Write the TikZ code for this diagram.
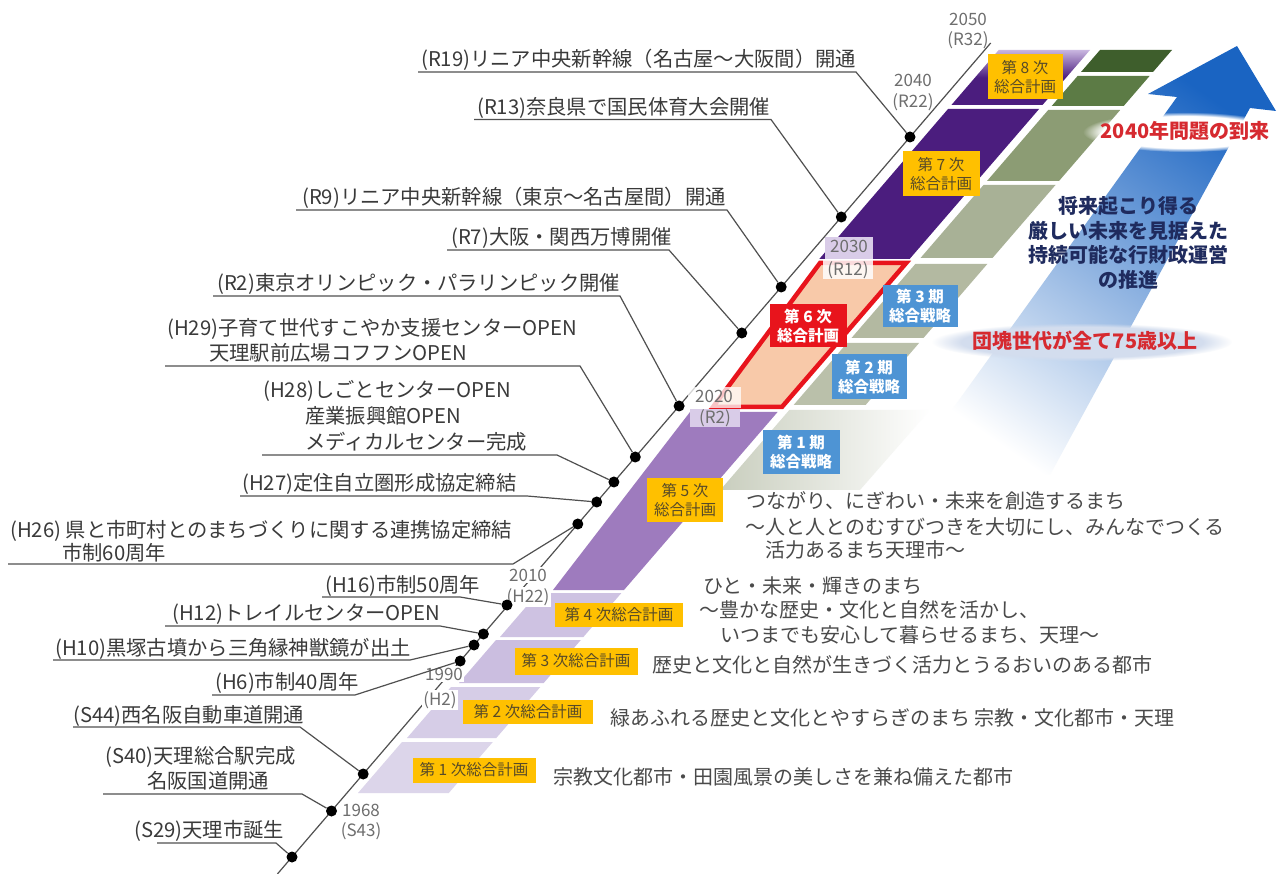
\documentclass[tikz,border=0pt]{standalone}
\usepackage{fontspec}
\setmainfont{Noto Sans CJK JP}
\usetikzlibrary{fadings}
\definecolor{lbltext}{HTML}{3A3A3A}
\definecolor{slogtext}{HTML}{4A4A4A}
\definecolor{yeartext}{HTML}{6E6E6E}
\definecolor{ulcol}{HTML}{505050}
\definecolor{bandA}{HTML}{DCD5EA}
\definecolor{bandB}{HTML}{D6CDE7}
\definecolor{bandC}{HTML}{CBBEE0}
\definecolor{bandD}{HTML}{CEC2E2}
\definecolor{bandE}{HTML}{9E7BBE}
\definecolor{peach}{HTML}{F8C9A9}
\definecolor{redsix}{HTML}{E8141C}
\definecolor{bandG}{HTML}{4B1D7E}
\definecolor{bandHtop}{HTML}{C9B6E0}
\definecolor{planorange}{HTML}{FFC000}
\definecolor{plantext}{HTML}{574A28}
\definecolor{stratblue}{HTML}{4E94D4}
\definecolor{gOne}{HTML}{C9CEBE}
\definecolor{gTwo}{HTML}{BAC0AA}
\definecolor{gThree}{HTML}{B3B9A1}
\definecolor{gSix}{HTML}{A8B196}
\definecolor{gSeven}{HTML}{8C9C74}
\definecolor{gEightB}{HTML}{5C7B45}
\definecolor{gEightA}{HTML}{3E5E2C}
\definecolor{arrowdark}{HTML}{1A64C2}
\definecolor{arrowmid}{HTML}{86B4E4}
\definecolor{navytext}{HTML}{1F2B5E}
\definecolor{redtext}{HTML}{D62A30}
\definecolor{cloudblue}{HTML}{D3DDEE}
\definecolor{lavbox}{HTML}{D9CCE8}
\begin{document}
\begin{tikzpicture}[x=1pt,y=-1pt,
  lbl/.style={anchor=base west, inner sep=0pt, text=lbltext, font=\fontsize{20.3}{22}\selectfont},
  slog/.style={anchor=base west, inner sep=0pt, text=slogtext, font=\fontsize{20}{24}\selectfont},
  yr/.style={anchor=base, inner sep=0pt, text=yeartext, font=\fontsize{17}{19}\selectfont},
  yrw/.style={yr, fill=white, inner sep=1.5pt},
  ul/.style={draw=ulcol, line width=1.2pt},
  tdot/.style={circle, fill=black, inner sep=0pt, minimum size=11pt},
  obox/.style={fill=planorange, text=plantext, inner sep=0pt, align=center, font=\fontsize{15.5}{19}\selectfont},
  rbox/.style={fill=redsix, text=white, inner sep=0pt, align=center, font=\bfseries\fontsize{15.5}{19}\selectfont},
  bbox/.style={fill=stratblue, text=white, inner sep=0pt, align=center, font=\bfseries\fontsize{15.5}{19}\selectfont},
  bigtext/.style={inner sep=0pt, align=center, font=\bfseries\fontsize{20}{24.5}\selectfont}
]
\useasboundingbox (0,0) rectangle (1278,874);
\fill[white] (0,0) rectangle (1278,874);

% ---------- plan bands ----------
\fill[bandA] (402,742) -- (492.8,742) -- (448.8,793) -- (358,793) -- cycle;
\fill[bandB] (451,687) -- (540.3,687) -- (496.3,738) -- (407,738) -- cycle;
\fill[bandC] (496,640) -- (580.8,640) -- (543.7,683) -- (459,683) -- cycle;
\fill[bandD] (538,593) -- (621.4,593) -- (583.4,637) -- (500,637) -- cycle;
\fill[bandE] (690,412) -- (777.6,412) -- (624,590) -- (553,590) -- cycle;
\fill[bandG] (948,109) -- (1039.1,109) -- (909.6,259) -- (819.3,259) -- cycle;
\shade[top color=bandHtop, bottom color=bandG, middle color=bandG] (998.7,50) -- (1090,50) -- (1042.5,105) -- (951.4,105) -- cycle;

% ---------- strategy bands ----------
\shade[left color=gOne, right color=white] (789.3,410) -- (930,410) -- (860,490) -- (720.3,490) -- cycle;
\fill[gTwo] (847.1,343) -- (919.1,343) -- (865.6,405) -- (793.6,405) -- cycle;
\fill[gThree] (915.3,264) -- (987.3,264) -- (923.5,338) -- (851.5,338) -- cycle;
\fill[gSix] (983.5,185) -- (1055.5,185) -- (992.5,258) -- (920.5,258) -- cycle;
\fill[gSeven] (1048.2,110) -- (1120.2,110) -- (1059,181) -- (987,181) -- cycle;
\fill[gEightB] (1077.6,76) -- (1149.6,76) -- (1123.7,106) -- (1051.7,106) -- cycle;
\fill[gEightA] (1100,50) -- (1172,50) -- (1153,72) -- (1081,72) -- cycle;

% ---------- big arrow ----------
\shade[top color=arrowdark, middle color=arrowmid, bottom color=white, shading angle=-35]
  (1148,94) -- (1237,46) -- (1276,111) -- (1250,108) -- (1050,475) -- (905,475) -- (1177,97) -- cycle;
\fill[white, path fading=circle with fuzzy edge 20 percent] (1185,132) ellipse [x radius=102, y radius=20];
\fill[cloudblue, path fading=circle with fuzzy edge 20 percent] (1082,342) ellipse [x radius=150, y radius=19];

% ---------- 6th plan (red frame) ----------
\filldraw[fill=peach, draw=redsix, line width=4.5pt, line join=miter] (820,263) -- (906.2,263) -- (781.9,407) -- (713,407) -- cycle;

% ---------- timeline ----------
\coordinate (tlA) at (277.4,874);
\coordinate (tlB) at (990.7,43);
\draw[ul] (tlA) -- (tlB);

% year label backgrounds
\fill[white, opacity=0.75] (688,387) rectangle (741,408);
\fill[lavbox] (690,409) rectangle (740,427);
\fill[lavbox] (825,237) rectangle (873,259);
\fill[white, opacity=0.85] (823,260) rectangle (873,279);

% ---------- year labels ----------
\node[yr] (y1968) at (361,816) {1968};
\node[yr] (s43) at (361,836) {(S43)};
\node[yrw] (y1990) at (444,680) {1990};
\node[yrw] (h2) at (440,705) {(H2)};
\node[yrw] (y2010) at (528,581) {2010};
\node[yrw] (h22) at (528,602) {(H22)};
\node[yr] (y2020) at (714,403) {2020};
\node[yr] (r2y) at (715,424) {(R2)};
\node[yr] (y2030) at (849,253) {2030};
\node[yr] (r12) at (848,276) {(R12)};
\node[yr] (y2040) at (913,87) {2040};
\node[yr] (r22) at (913,108) {(R22)};
\node[yr] (y2050) at (968,26) {2050};
\node[yr] (r32) at (968,46) {(R32)};

% ---------- dots ----------
\node[tdot] (dR19) at (910.0,137) {};
\node[tdot] (dR13) at (841.3,217) {};
\node[tdot] (dR9) at (781.2,287) {};
\node[tdot] (dR7) at (741.8,333) {};
\node[tdot] (dR2) at (679.1,406) {};
\node[tdot] (dH29) at (635.3,457) {};
\node[tdot] (dH28) at (613.9,482) {};
\node[tdot] (dH27) at (596.7,502) {};
\node[tdot] (dH26) at (577.8,524) {};
\node[tdot] (dH16) at (507,605) {};
\node[tdot] (dH12) at (483.4,634) {};
\node[tdot] (dH10) at (474.0,645) {};
\node[tdot] (dH6) at (460.2,661) {};
\node[tdot] (dS44) at (363.2,774) {};
\node[tdot] (dS40) at (331.5,811) {};
\node[tdot] (dS29) at (292.0,857) {};

% ---------- event labels ----------
\node[lbl] (tR19) at (421,67) {(R19)リニア中央新幹線（名古屋～大阪間）開通};
\coordinate (uR19a) at (418,72); \coordinate (uR19b) at (856,72);
\draw[ul] (uR19a) -- (uR19b) -- (dR19);

\node[lbl] (tR13) at (477,114.5) {(R13)奈良県で国民体育大会開催};
\coordinate (uR13a) at (474,119.5); \coordinate (uR13b) at (771,119.5);
\draw[ul] (uR13a) -- (uR13b) -- (dR13);

\node[lbl] (tR9) at (302,205) {(R9)リニア中央新幹線（東京～名古屋間）開通};
\coordinate (uR9a) at (296,210); \coordinate (uR9b) at (727,210);
\draw[ul] (uR9a) -- (uR9b) -- (dR9);

\node[lbl] (tR7) at (451,245) {(R7)大阪・関西万博開催};
\coordinate (uR7a) at (447,250); \coordinate (uR7b) at (669,250);
\draw[ul] (uR7a) -- (uR7b) -- (dR7);

\node[lbl] (tR2) at (217,291) {(R2)東京オリンピック・パラリンピック開催};
\coordinate (uR2a) at (213,296); \coordinate (uR2b) at (620,296);
\draw[ul] (uR2a) -- (uR2b) -- (dR2);

\node[lbl] (tH29a) at (167,336) {(H29)子育て世代すこやか支援センターOPEN};
\node[lbl] (tH29b) at (209,361) {天理駅前広場コフフンOPEN};
\coordinate (uH29a) at (165,366); \coordinate (uH29b) at (580,366);
\draw[ul] (uH29a) -- (uH29b) -- (dH29);

\node[lbl] (tH28a) at (263,398) {(H28)しごとセンターOPEN};
\node[lbl] (tH28b) at (305,424) {産業振興館OPEN};
\node[lbl] (tH28c) at (305,450) {メディカルセンター完成};
\coordinate (uH28a) at (262,455); \coordinate (uH28b) at (557,455);
\draw[ul] (uH28a) -- (uH28b) -- (dH28);

\node[lbl] (tH27) at (242,491) {(H27)定住自立圏形成協定締結};
\coordinate (uH27a) at (240,496); \coordinate (uH27b) at (527,496);
\draw[ul] (uH27a) -- (uH27b) -- (dH27);

\node[lbl] (tH26a) at (10,537) {(H26) 県と市町村とのまちづくりに関する連携協定締結};
\node[lbl] (tH26b) at (62,560) {市制60周年};
\coordinate (uH26a) at (8,564); \coordinate (uH26b) at (513,564);
\draw[ul] (uH26a) -- (uH26b) -- (dH26);

\node[lbl] (tH16) at (325,592) {(H16)市制50周年};
\coordinate (uH16a) at (322,597); \coordinate (uH16b) at (460,597);
\draw[ul] (uH16a) -- (uH16b) -- (dH16);

\node[lbl] (tH12) at (172,620) {(H12)トレイルセンターOPEN};
\coordinate (uH12a) at (165,626); \coordinate (uH12b) at (440,626);
\draw[ul] (uH12a) -- (uH12b) -- (dH12);

\node[lbl] (tH10) at (55,655) {(H10)黒塚古墳から三角縁神獣鏡が出土};
\coordinate (uH10a) at (53,660); \coordinate (uH10b) at (410,660);
\draw[ul] (uH10a) -- (uH10b) -- (dH10);

\node[lbl] (tH6) at (215,689) {(H6)市制40周年};
\coordinate (uH6a) at (212,695); \coordinate (uH6b) at (355,695);
\draw[ul] (uH6a) -- (uH6b) -- (dH6);

\node[lbl] (tS44) at (73,722) {(S44)西名阪自動車道開通};
\coordinate (uS44a) at (73,727); \coordinate (uS44b) at (300,727);
\draw[ul] (uS44a) -- (uS44b) -- (dS44);

\node[lbl] (tS40a) at (105,763) {(S40)天理総合駅完成};
\node[lbl] (tS40b) at (147,788) {名阪国道開通};
\coordinate (uS40a) at (103,794); \coordinate (uS40b) at (302,794);
\draw[ul] (uS40a) -- (uS40b) -- (dS40);

\node[lbl] (tS29) at (134,837) {(S29)天理市誕生};
\coordinate (uS29a) at (157,843); \coordinate (uS29b) at (276,843);
\draw[ul] (uS29a) -- (uS29b) -- (dS29);

% ---------- plan boxes ----------
\node[obox, minimum width=123pt, minimum height=25pt] (p1) at (474,770) {第 1 次総合計画};
\node[obox, minimum width=130pt, minimum height=24pt] (p2) at (528,712) {第 2 次総合計画};
\node[obox, minimum width=123pt, minimum height=27pt] (p3) at (576,661) {第 3 次総合計画};
\node[obox, minimum width=128pt, minimum height=24pt] (p4) at (619,615) {第 4 次総合計画};
\node[obox, minimum width=76pt, minimum height=44pt] (p5) at (685,500) {第 5 次\\総合計画};
\node[rbox, minimum width=77pt, minimum height=43pt] (p6) at (808,326) {第 6 次\\総合計画};
\node[obox, minimum width=77pt, minimum height=45pt] (p7) at (941,174) {第 7 次\\総合計画};
\node[obox, minimum width=75pt, minimum height=45pt] (p8) at (1025,77) {第 8 次\\総合計画};

\node[bbox, minimum width=75pt, minimum height=42pt] (s3) at (920,306) {第 3 期\\総合戦略};
\node[bbox, minimum width=75pt, minimum height=45pt] (s2) at (869,377) {第 2 期\\総合戦略};
\node[bbox, minimum width=77pt, minimum height=44pt] (s1) at (801,452) {第 1 期\\総合戦略};

% ---------- slogans ----------
\node[slog] (v5a) at (746,509) {つながり、にぎわい・未来を創造するまち};
\node[slog] (v5b) at (745,534) {～人と人とのむすびつきを大切にし、みんなでつくる};
\node[slog] (v5c) at (765,558) {活力あるまち天理市～};
\node[slog] (v4a) at (703,593) {ひと・未来・輝きのまち};
\node[slog] (v4b) at (699,617) {～豊かな歴史・文化と自然を活かし、};
\node[slog] (v4c) at (720,642) {いつまでも安心して暮らせるまち、天理～};
\node[slog] (v3) at (652,672) {歴史と文化と自然が生きづく活力とうるおいのある都市};
\node[slog] (v2) at (610,725) {緑あふれる歴史と文化とやすらぎのまち 宗教・文化都市・天理};
\node[slog] (v1) at (553,784) {宗教文化都市・田園風景の美しさを兼ね備えた都市};

% ---------- right side texts ----------
\node[bigtext, text=redtext] (q2040) at (1185,131) {2040年問題の到来};
\node[bigtext, text=navytext] (qsus) at (1128,243) {将来起こり得る\\厳しい未来を見据えた\\持続可能な行財政運営\\の推進};
\node[bigtext, text=redtext] (qdankai) at (1085,341) {団塊世代が全て75歳以上};
\end{tikzpicture}
\end{document}
